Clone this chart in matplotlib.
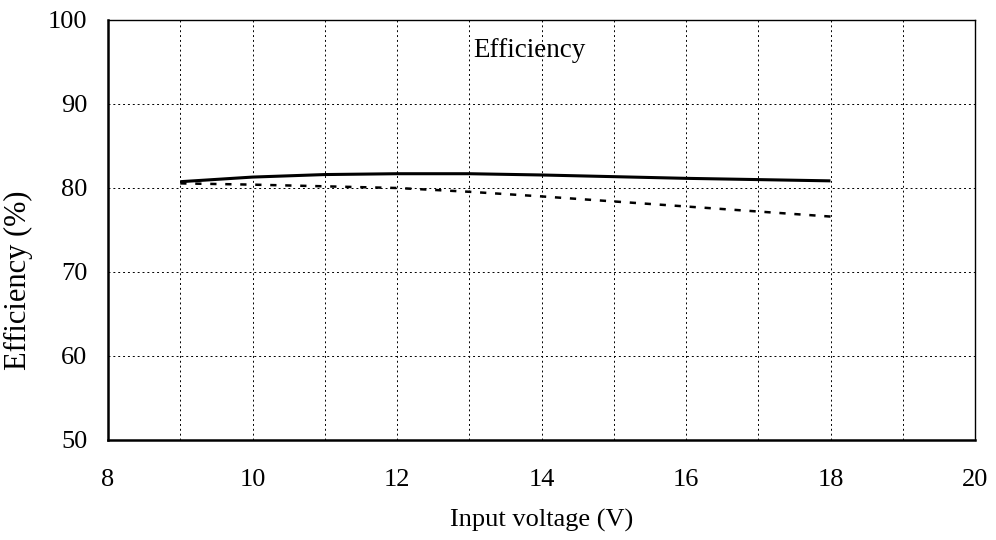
import matplotlib
matplotlib.use("Agg")
import matplotlib.pyplot as plt

voltage = [9, 10, 11, 12, 13, 14, 15, 16, 17, 18]
eff_solid = [80.75, 81.3, 81.6, 81.7, 81.7, 81.55, 81.35, 81.15, 81.0, 80.85]
eff_dotted = [80.55, 80.4, 80.2, 80.0, 79.55, 79.0, 78.4, 77.8, 77.2, 76.6]
x_ticks = [8, 10, 12, 14, 16, 18, 20]
y_ticks = [50, 60, 70, 80, 90, 100]

plt.rcParams['font.family'] = ['Liberation Serif', 'DejaVu Serif']

fig = plt.figure(figsize=(9.96, 5.4), dpi=100)
ax = fig.add_axes([108/996, 100/540, (975-108)/996, 420/540])

ax.plot(voltage, eff_solid, color='black', lw=2.2, solid_capstyle='butt')
ax.plot(voltage, eff_dotted, color='black', lw=1.8, linestyle=(0, (2.5, 3.5)))

ax.set_xlim(8, 20)
ax.set_ylim(50, 100)
ax.set_xticks(x_ticks)
ax.set_yticks(y_ticks)
ax.set_xticks(range(8, 21), minor=True)
ax.grid(True, which='both', color='black', linestyle=(0, (2, 3)), lw=0.7)
ax.tick_params(which='both', length=0)
ax.tick_params(axis='x', pad=21, labelsize=19)
ax.tick_params(axis='y', pad=15, labelsize=19)

for s in ['left', 'bottom']:
    ax.spines[s].set_linewidth(1.8)
for s in ['top', 'right']:
    ax.spines[s].set_linewidth(1.0)

ax.set_xlabel('Input voltage (V)', fontsize=19, labelpad=13)
ax.set_ylabel('Efficiency (%)', fontsize=22)
ax.yaxis.set_label_coords(-0.087, 0.38)
ax.text(13.83, 96.4, 'Efficiency', fontsize=19.5, ha='center', va='center')

fig.savefig('out.png', dpi=100)
